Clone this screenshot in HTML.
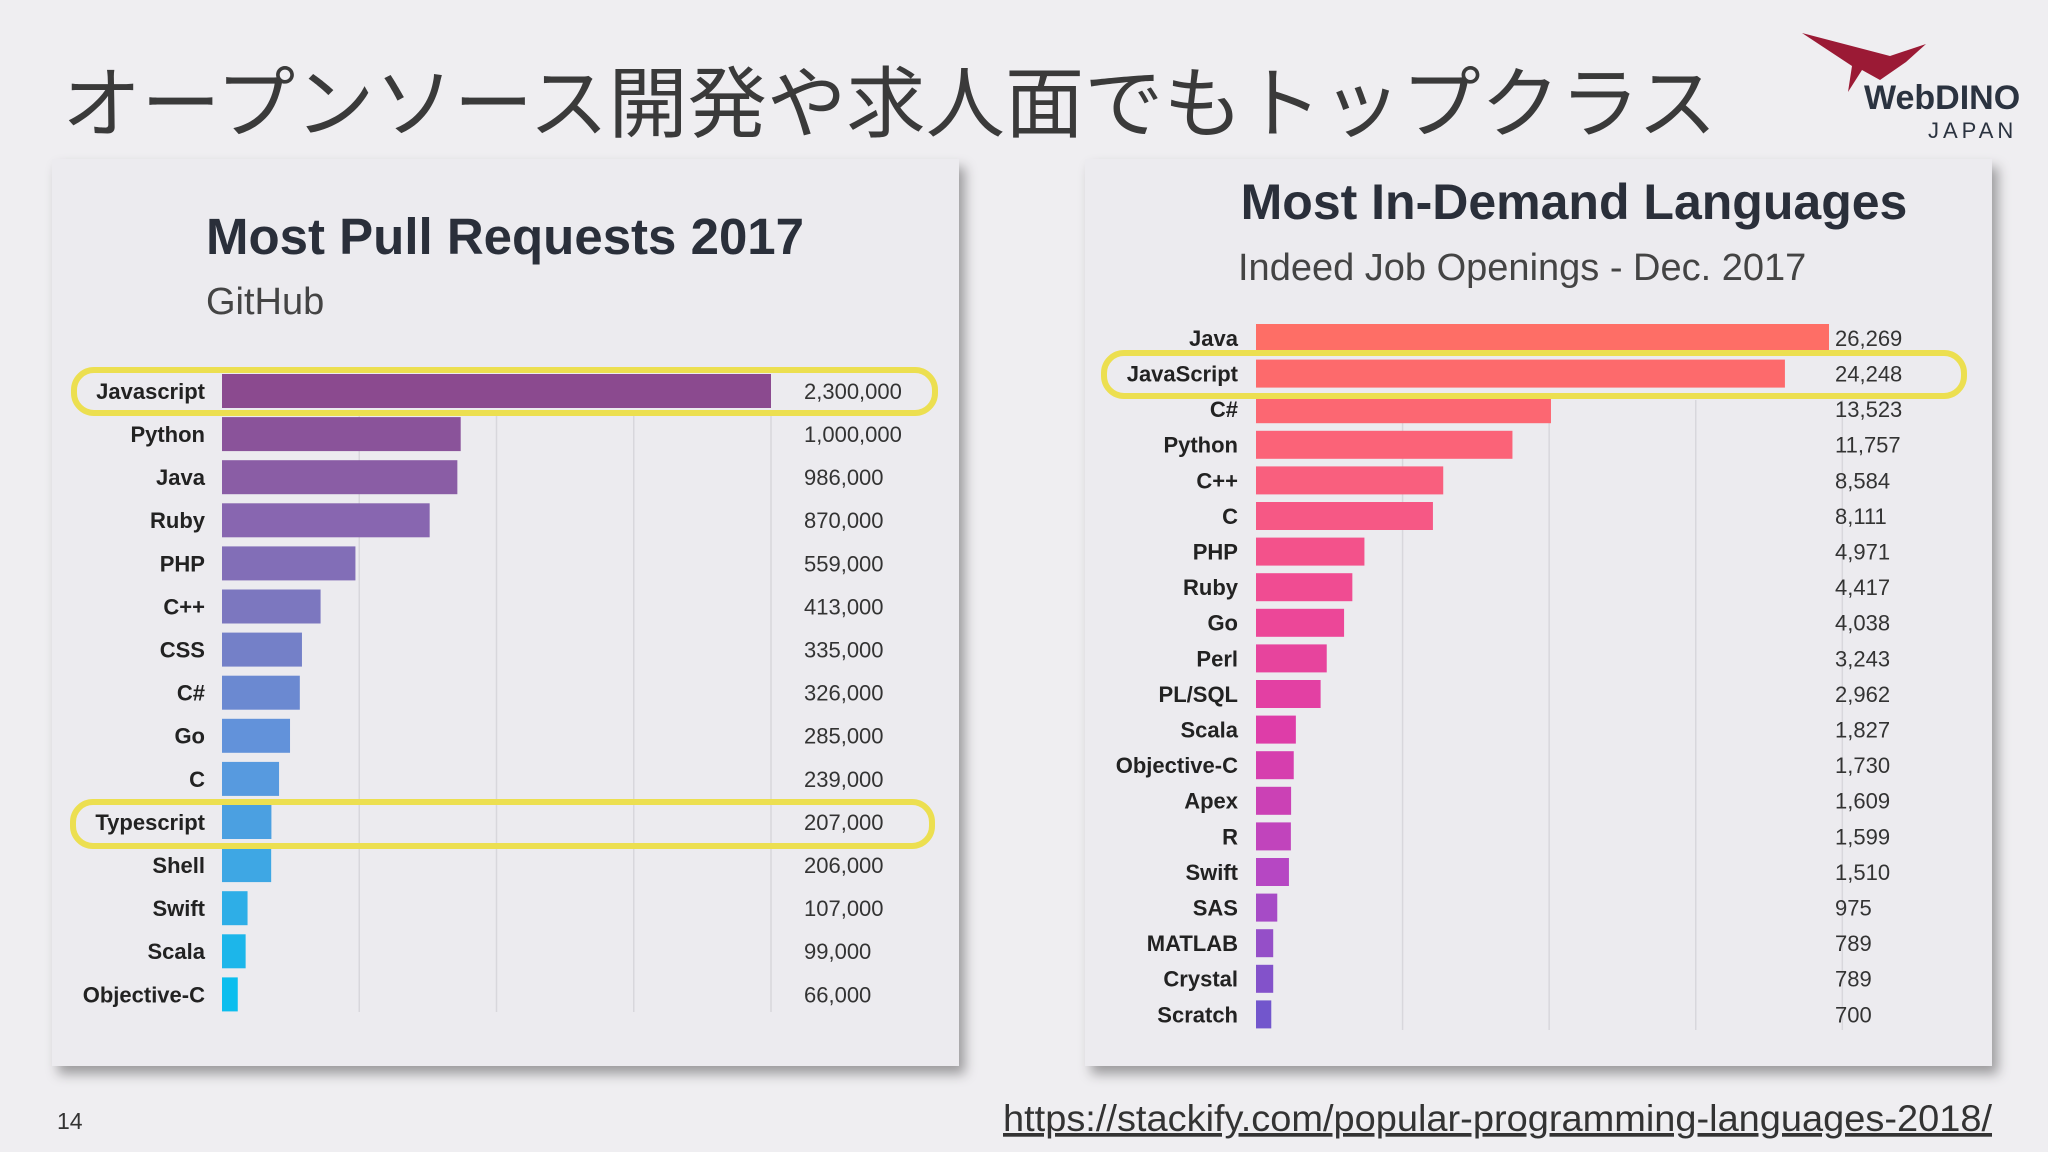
<!DOCTYPE html>
<html><head><meta charset="utf-8"><style>
html,body{margin:0;padding:0;background:#efeef1;}
svg{display:block;font-family:"Liberation Sans","Noto Sans CJK JP",sans-serif;}
</style></head><body>
<svg id="s" width="2048" height="1152" viewBox="0 0 2048 1152" xmlns="http://www.w3.org/2000/svg">
<defs>
<filter id="sh" x="-5%" y="-5%" width="115%" height="115%"><feDropShadow dx="6" dy="8" stdDeviation="6" flood-color="#000" flood-opacity="0.35"/></filter>
</defs>
<rect width="2048" height="1152" fill="#efeef1"/>
<text x="62" y="131" font-size="78" fill="#3a3a3a" textLength="1655" lengthAdjust="spacingAndGlyphs">オープンソース開発や求人面でもトップクラス</text>
<g>
<polygon points="1802,33 1890,56 1926,44 1906,62 1880,80 1862,70 1848,92 1852,66" fill="#9b1a35"/>
<text x="1864" y="109" font-size="34" font-weight="bold" fill="#2b3340">WebDINO</text>
<text x="1928" y="138" font-size="22" letter-spacing="4" fill="#2b3340">JAPAN</text>
</g>
<rect x="52" y="159" width="907" height="907" fill="#ecebef" filter="url(#sh)"/>
<rect x="1085" y="159" width="907" height="907" fill="#ecebef" filter="url(#sh)"/>
<text x="206" y="254" font-size="51" font-weight="bold" fill="#2a2f3a">Most Pull Requests 2017</text>
<text x="206" y="314" font-size="38" fill="#444">GitHub</text>
<text x="1574" y="219" font-size="50" font-weight="bold" fill="#2a2f3a" text-anchor="middle">Most In-Demand Languages</text>
<text x="1238" y="280" font-size="38" fill="#444">Indeed Job Openings - Dec. 2017</text>
<g id="left"></g>
<g id="right"></g>
<rect x="74" y="370" width="861" height="43" rx="20" fill="none" stroke="#ecdf50" stroke-width="6"/>
<rect x="73" y="802" width="859" height="44" rx="20" fill="none" stroke="#ecdf50" stroke-width="6"/>
<rect x="1104" y="353" width="860" height="43" rx="20" fill="none" stroke="#ecdf50" stroke-width="6"/>
<text x="57" y="1129" font-size="23" fill="#333">14</text>
<text x="1003" y="1131" font-size="37" fill="#333" text-decoration="underline" textLength="989" lengthAdjust="spacingAndGlyphs">https://stackify.com/popular-programming-languages-2018/</text>
</svg>
<script>
const leftCats = ["Javascript","Python","Java","Ruby","PHP","C++","CSS","C#","Go","C","Typescript","Shell","Swift","Scala","Objective-C"];
const leftVals = [2300000,1000000,986000,870000,559000,413000,335000,326000,285000,239000,207000,206000,107000,99000,66000];
const leftLabels = ["2,300,000","1,000,000","986,000","870,000","559,000","413,000","335,000","326,000","285,000","239,000","207,000","206,000","107,000","99,000","66,000"];
const leftTicks = [575000,1150000,1725000,2300000];
const rightCats = ["Java","JavaScript","C#","Python","C++","C","PHP","Ruby","Go","Perl","PL/SQL","Scala","Objective-C","Apex","R","Swift","SAS","MATLAB","Crystal","Scratch"];
const rightVals = [26269,24248,13523,11757,8584,8111,4971,4417,4038,3243,2962,1827,1730,1609,1599,1510,975,789,789,700];
const rightLabels = ["26,269","24,248","13,523","11,757","8,584","8,111","4,971","4,417","4,038","3,243","2,962","1,827","1,730","1,609","1,599","1,510","975","789","789","700"];
const rightTicks = [6720,13440,20160,26880];

const NS="http://www.w3.org/2000/svg";
function mk(tag,attrs,parent){const e=document.createElementNS(NS,tag);for(const k in attrs)e.setAttribute(k,attrs[k]);parent.appendChild(e);return e;}
function lerp(a,b,t){return a.map((v,i)=>Math.round(v+(b[i]-v)*t));}
function colorAt(stops,t){const n=stops.length-1;const i=Math.min(n-1,Math.floor(t*n));const f=t*n-i;const c=lerp(stops[i],stops[i+1],f);return `rgb(${c[0]},${c[1]},${c[2]})`;}

function draw(cfg){
  const g=document.getElementById(cfg.id);
  const x=v=>cfg.x0+v/cfg.max*cfg.w;
  const y=i=>cfg.y0+i*cfg.step;
  cfg.ticks.forEach(t=>{
    const l=mk('line',{x1:x(t),x2:x(t),y1:cfg.gy0,y2:cfg.gy1,stroke:'#d8d7dc','stroke-width':1.5},g);
    
    
  });
  cfg.cats.forEach((c,i)=>{
    const t=cfg.cats.length>1?i/(cfg.cats.length-1):0;
    const r=mk('rect',{x:cfg.x0,y:y(i)-cfg.bh/2,width:x(cfg.vals[i])-cfg.x0,height:cfg.bh,fill:colorAt(cfg.stops,t)},g);
    
    
    const lb=mk('text',{x:cfg.lx,y:y(i)+cfg.fs*0.36,'font-size':cfg.fs,'font-weight':'bold',fill:'#222','text-anchor':'end'},g);
    lb.textContent=c;
    
    
    const vl=mk('text',{x:cfg.vx,y:y(i)+cfg.fs*0.36,'font-size':cfg.fs,fill:'#333'},g);
    vl.textContent=cfg.labels[i];
    
    
  });
}
draw({id:'left',cats:leftCats,vals:leftVals,labels:leftLabels,ticks:leftTicks,max:2300000,x0:222,w:549,y0:391,step:43.1,bh:34,lx:205,vx:804,fs:22,gy0:413,gy1:1012,
  stops:[[139,74,143],[137,100,174],[120,124,196],[94,150,222],[60,168,228],[11,190,238]]});
draw({id:'right',cats:rightCats,vals:rightVals,labels:rightLabels,ticks:rightTicks,max:26269,x0:1256,w:573,y0:338,step:35.6,bh:28,lx:1238,vx:1835,fs:22,gy0:400,gy1:1030,
  stops:[[254,110,102],[250,96,125],[238,72,150],[220,60,170],[180,72,196],[114,86,204]]});
</script>
</body></html>
